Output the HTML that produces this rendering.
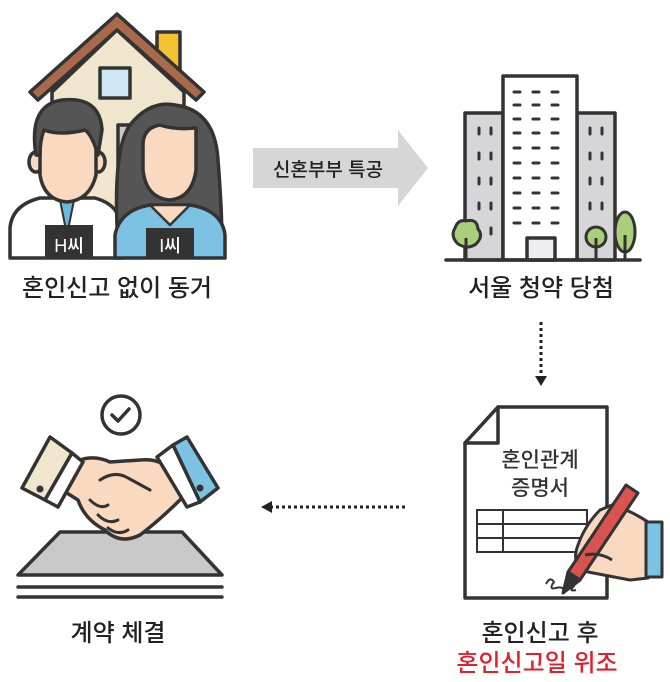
<!DOCTYPE html>
<html><head><meta charset="utf-8"><style>
html,body{margin:0;padding:0;background:#fff;}
svg{display:block;}
text{font-family:"Liberation Sans","Noto Sans CJK KR",sans-serif;font-weight:500;}
</style></head><body>
<svg width="670" height="682" viewBox="0 0 670 682" xmlns="http://www.w3.org/2000/svg">
<g stroke="#333" stroke-width="3.5" stroke-linejoin="round" stroke-linecap="round">
<!-- House -->
<rect x="157" y="32" width="23" height="40" fill="#f2c230"/>
<polygon points="52,92 117,30 184,92 184,210 52,210" fill="#efe6cd"/>
<polygon points="30,92 117,14 204,92 196,100 117,30 38,100" fill="#a86a4a"/>
<rect x="100" y="68" width="30" height="30" fill="#cfe7f5"/>
<rect x="118" y="125" width="55" height="60" fill="#c9c9c9"/>
<!-- Man -->
<path d="M10,258 L10,228 Q12,205 40,198 L95,198 Q120,205 122,228 L122,258 Z" fill="#fff"/>
<path d="M60,200 L67,235 L74,200 Z" fill="#6bb8de" stroke-width="2"/>
<ellipse cx="36" cy="162" rx="7" ry="10" fill="#f9d9c0"/>
<ellipse cx="98" cy="162" rx="7" ry="10" fill="#f9d9c0"/>
<path d="M40,140 Q40,110 67,108 Q96,108 96,140 L96,175 Q90,200 67,202 Q44,200 40,175 Z" fill="#f9d9c0"/>
<path d="M36,155 Q28,105 62,100 Q100,96 102,130 L98,155 Q92,135 85,130 Q60,136 44,130 Q40,140 40,155 Z" fill="#555"/>
<rect x="45" y="225" width="48" height="33" fill="#333" stroke="none"/>
<text x="69" y="252" font-size="18" font-weight="bold" fill="#fff" stroke="none" text-anchor="middle">H씨</text>
<!-- Woman -->
<path d="M118,245 Q112,150 130,125 Q150,100 175,105 Q215,110 218,160 Q222,210 222,245 Z" fill="#555"/>
<path d="M115,258 L115,235 Q120,210 150,205 L190,205 Q222,210 225,235 L225,258 Z" fill="#7cc3e3"/>
<path d="M150,205 L170,225 L190,205 Z" fill="#f9d9c0" stroke-width="2.5"/>
<path d="M143,145 Q143,128 160,125 Q175,130 196,128 L196,170 Q192,198 170,200 Q146,198 143,170 Z" fill="#f9d9c0"/>
<rect x="146" y="228" width="48" height="30" fill="#333" stroke="none"/>
<text x="170" y="252" font-size="18" font-weight="bold" fill="#fff" stroke="none" text-anchor="middle">I씨</text>
</g>
<text x="117" y="296" font-size="24" fill="#222" text-anchor="middle">혼인신고 없이 동거</text>

<!-- Block arrow -->
<polygon points="253,148 398,148 398,130 428,168 398,206 398,188 253,188" fill="#d6d6d6"/>
<text x="328" y="176" font-size="19" fill="#222" text-anchor="middle">신혼부부 특공</text>

<!-- Buildings -->
<g stroke="#333" stroke-width="3.5" stroke-linejoin="round" stroke-linecap="round">
<rect x="465" y="113" width="38" height="147" fill="#d6d6d9"/>
<rect x="577" y="113" width="38" height="147" fill="#d6d6d9"/>
<rect x="503" y="76" width="74" height="184" fill="#fff"/>
<rect x="527" y="238" width="28" height="22" fill="#ededf2"/>
<line x1="446" y1="260" x2="640" y2="260"/>
</g>
<g stroke="#333" stroke-width="3" stroke-linecap="round">
<path d="M514,92h6M533,92h6M552,92h6 M514,105h6M533,105h6M552,105h6 M514,119h6M533,119h6M552,119h6 M514,133h6M533,133h6M552,133h6 M514,148h6M533,148h6M552,148h6 M514,163h6M533,163h6M552,163h6 M514,178h6M533,178h6M552,178h6 M514,193h6M533,193h6M552,193h6 M514,208h6M533,208h6M552,208h6 M514,223h6M533,223h6M552,223h6"/>
<path d="M479,128v6M491,128v6M479,153v6M491,153v6M479,178v6M491,178v6M479,203v6M491,203v6M491,228v6 M590,128v6M602,128v6M590,153v6M602,153v6M590,178v6M602,178v6M590,203v6M602,203v6"/>
</g>
<g stroke="#333" stroke-width="3" fill="#a9cf7a">
<path d="M466,221 Q477,218 478,229 Q484,236 476,244 Q468,250 458,244 Q450,236 455,228 Q458,219 466,221 Z"/>
<line x1="466" y1="238" x2="466" y2="260"/>
<circle cx="596" cy="237" r="10"/>
<line x1="596" y1="238" x2="596" y2="260"/>
<ellipse cx="625" cy="232" rx="10" ry="20"/>
<line x1="625" y1="235" x2="625" y2="260"/>
</g>
<text x="541" y="296" font-size="24" fill="#222" text-anchor="middle">서울 청약 당첨</text>

<!-- dotted down arrow -->
<line x1="541" y1="322" x2="541" y2="378" stroke="#222" stroke-width="3" stroke-dasharray="3,3"/>
<polygon points="535,376 547,376 541,386" fill="#222"/>

<!-- Document -->
<g stroke="#333" stroke-width="3.5" stroke-linejoin="round">
<polygon points="498,407 607,407 607,598 465,598 465,443" fill="#fff"/>
<polygon points="498,407 498,443 465,443" fill="#fff"/>
</g>
<text x="540" y="467" font-size="21" fill="#333" text-anchor="middle">혼인관계</text>
<text x="540" y="495" font-size="21" fill="#333" text-anchor="middle">증명서</text>
<g stroke="#333" stroke-width="2" fill="none">
<rect x="477" y="510" width="110" height="42"/>
<line x1="477" y1="524" x2="587" y2="524"/>
<line x1="477" y1="538" x2="587" y2="538"/>
<line x1="503" y1="510" x2="503" y2="552"/>
<path d="M546,584 q4,-8 8,-2 q-6,8 2,6 q6,-2 8,2 M566,586 q6,-8 8,0 q-6,6 2,4" stroke-width="2"/>
</g>
<g stroke="#333" stroke-width="3" stroke-linejoin="round">
<path d="M600,510 Q585,525 578,545 Q570,565 588,572 L630,580 L648,578 L648,522 Q630,510 612,505 Z" fill="#f9d9c0"/>
<rect x="646" y="522" width="16" height="55" fill="#7cc3e3"/>
<polygon points="626,485 638,493 580,580 568,572" fill="#d9534f"/>
<polygon points="568,572 580,580 563,593" fill="#333"/>
<path d="M585,555 Q600,552 612,560" fill="none"/>
</g>
<text x="540" y="641" font-size="24" fill="#222" text-anchor="middle">혼인신고 후</text>
<text x="537" y="671" font-size="24" fill="#e0202c" text-anchor="middle">혼인신고일 위조</text>

<!-- dotted left arrow -->
<line x1="270" y1="507" x2="405" y2="507" stroke="#222" stroke-width="3" stroke-dasharray="3,3"/>
<polygon points="272,501 272,513 261,507" fill="#222"/>

<!-- Handshake -->
<g stroke="#333" stroke-width="3.5" stroke-linejoin="round" stroke-linecap="round">
<circle cx="121" cy="415" r="19" fill="#fff"/>
<path d="M112,415 l6,6 l11,-12" fill="none"/>
<polygon points="60,532 182,532 222,575 18,575" fill="#c9c9c9"/>
<line x1="18" y1="587" x2="222" y2="587"/>
<line x1="18" y1="597" x2="222" y2="597"/>
<path d="M80,460 Q95,455 110,462 L140,460 Q160,458 170,470 L185,495 Q160,520 140,535 Q120,545 105,530 Q85,520 78,500 L62,490 Z" fill="#f9d9c0"/>
<path d="M100,480 Q115,470 128,478 L150,490 M90,500 Q100,510 108,505 M98,515 Q108,525 118,520 M108,528 Q118,536 128,530" fill="none" stroke-width="3"/>
<polygon points="22,488 50,437 72,453 45,500" fill="#efe6cd"/>
<polygon points="72,453 83,462 58,507 45,500" fill="#fff"/>
<polygon points="173,445 187,437 218,488 200,502" fill="#7cc3e3"/>
<polygon points="157,457 173,445 200,502 187,507" fill="#fff"/>
</g>
<circle cx="40" cy="489" r="3.5" fill="#333"/>
<circle cx="200" cy="488" r="3.5" fill="#333"/>
<text x="118" y="641" font-size="24" fill="#222" text-anchor="middle">계약 체결</text>
</svg>
</body></html>
